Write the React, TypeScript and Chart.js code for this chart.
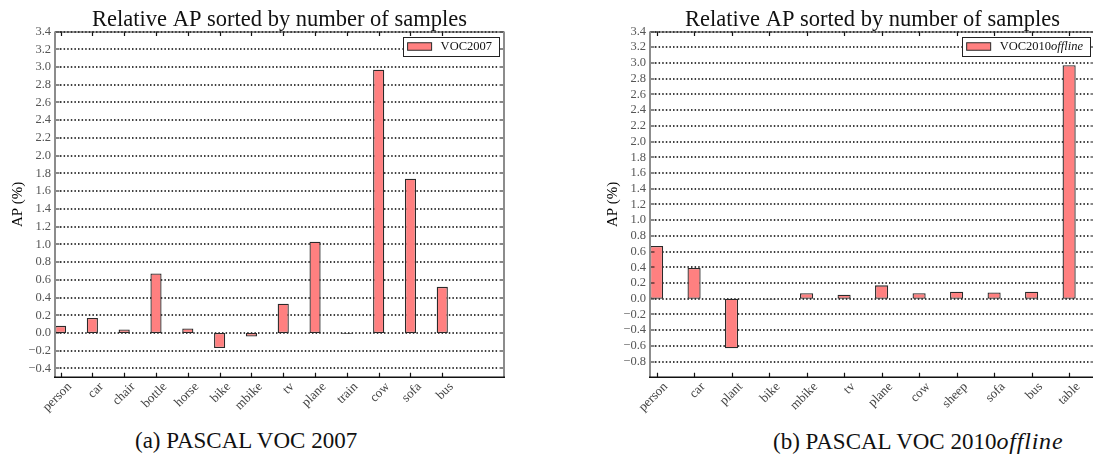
import React, { useEffect, useRef } from "react";
import { Chart, registerables } from "chart.js";

Chart.register(...registerables);

// ---------- data ----------
const categories07 = ["person", "car", "chair", "bottle", "horse", "bike", "mbike", "tv", "plane", "train", "cow", "sofa", "bus"];
const values07 = [0.08, 0.17, 0.04, 0.67, 0.05, -0.17, -0.04, 0.33, 1.03, -0.01, 2.97, 1.74, 0.52];
const yTicks07 = [-0.4, -0.2, 0.0, 0.2, 0.4, 0.6, 0.8, 1.0, 1.2, 1.4, 1.6, 1.8, 2.0, 2.2, 2.4, 2.6, 2.8, 3.0, 3.2, 3.4];
const legend07: [string, boolean][] = [["VOC2007", false]];

const categories10 = ["person", "car", "plant", "bike", "mbike", "tv", "plane", "cow", "sheep", "sofa", "bus", "table"];
const values10 = [0.67, 0.39, -0.63, -0.01, 0.07, 0.05, 0.17, 0.07, 0.09, 0.08, 0.09, 2.97];
const yTicks10 = [-0.8, -0.6, -0.4, -0.2, 0.0, 0.2, 0.4, 0.6, 0.8, 1.0, 1.2, 1.4, 1.6, 1.8, 2.0, 2.2, 2.4, 2.6, 2.8, 3.0, 3.2, 3.4];
const legend10: [string, boolean][] = [["VOC2010", false], ["offline", true]];

const chartTitle = "Relative AP sorted by number of samples";
const yTitle = "AP (%)";

const SERIF = "'Liberation Serif', 'DejaVu Serif', serif";
const BAR_FILL = "#ff8080";
const BAR_EDGE = "#2a2a2a";

const decorPlugin = {
  id: "decor",
  beforeDatasetsDraw(chart: any, _args: any, opts: any) {
    const { ctx, chartArea: a, scales } = chart;
    const y = scales.y;
    ctx.save();
    ctx.strokeStyle = "#000";
    ctx.lineWidth = 1.5;
    ctx.setLineDash([1.5, 2.1]);
    for (const t of opts.yTicks) {
      const py = Math.round(y.getPixelForValue(t));
      ctx.beginPath();
      ctx.moveTo(a.left + 5, py);
      ctx.lineTo(a.right - 5, py);
      ctx.stroke();
    }
    ctx.restore();
  },
  afterDatasetsDraw(chart: any, _args: any, opts: any) {
    const { ctx, chartArea: a, scales } = chart;
    const x = scales.x;
    const y = scales.y;
    ctx.save();
    ctx.setLineDash([]);
    ctx.strokeStyle = "#111";
    ctx.lineWidth = 1.2;
    for (const t of opts.yTicks) {
      const py = Math.round(y.getPixelForValue(t));
      ctx.beginPath();
      ctx.moveTo(a.left, py);
      ctx.lineTo(a.left + 4.5, py);
      ctx.moveTo(a.right, py);
      ctx.lineTo(a.right - 4.5, py);
      ctx.stroke();
    }
    for (let i = 0; i < opts.count; i++) {
      const px = Math.round(x.getPixelForValue(i)) + 0.5;
      ctx.beginPath();
      ctx.moveTo(px, a.bottom);
      ctx.lineTo(px, a.bottom - 4.5);
      ctx.moveTo(px, a.top);
      ctx.lineTo(px, a.top + 4.5);
      ctx.stroke();
    }
    ctx.strokeStyle = "#333";
    ctx.lineWidth = 1;
    ctx.beginPath();
    ctx.moveTo(a.left, a.top + 0.5);
    ctx.lineTo(a.right, a.top + 0.5);
    ctx.stroke();
    ctx.strokeStyle = "#8c8c8c";
    ctx.lineWidth = 2;
    ctx.beginPath();
    ctx.moveTo(a.left, a.top);
    ctx.lineTo(a.left, a.bottom);
    ctx.moveTo(a.right, a.top);
    ctx.lineTo(a.right, a.bottom);
    ctx.stroke();
    ctx.strokeStyle = "#111";
    ctx.lineWidth = 1.5;
    ctx.beginPath();
    ctx.moveTo(a.left - 1, a.bottom);
    ctx.lineTo(a.right + 1, a.bottom);
    ctx.stroke();
    ctx.restore();
  },
  afterDraw(chart: any, _args: any, opts: any) {
    const { ctx, chartArea: a } = chart;
    const ds = chart.data.datasets[0];
    const parts: [string, boolean][] = opts.legend;
    const size = 12.5;
    ctx.save();
    let textW = 0;
    for (const [t, it] of parts) {
      ctx.font = `${it ? "italic " : ""}${size}px ${SERIF}`;
      textW += ctx.measureText(t).width;
    }
    const padL = 5, swW = 24, swH = 7.5, gap = 9, padR = 7, boxH = 19;
    const boxW = padL + swW + gap + textW + padR;
    const right = a.right - 5;
    const top = a.top + 5.5;
    const left = right - boxW;
    ctx.fillStyle = "#fff";
    ctx.fillRect(left, top, boxW, boxH);
    ctx.strokeStyle = "#222";
    ctx.lineWidth = 1;
    ctx.strokeRect(Math.round(left) + 0.5, Math.round(top) + 0.5, Math.round(boxW), boxH);
    const sx = left + padL;
    const sy = top + (boxH - swH) / 2;
    ctx.fillStyle = ds.backgroundColor;
    ctx.fillRect(sx, sy, swW, swH);
    ctx.strokeStyle = BAR_EDGE;
    ctx.strokeRect(sx, sy, swW, swH);
    let tx = sx + swW + gap;
    ctx.fillStyle = "#111";
    ctx.textBaseline = "middle";
    ctx.textAlign = "left";
    for (const [t, it] of parts) {
      ctx.font = `${it ? "italic " : ""}${size}px ${SERIF}`;
      ctx.fillText(t, tx, top + boxH / 2 + 0.5);
      tx += ctx.measureText(t).width;
    }
    ctx.restore();
  },
};

type PanelProps = {
  categories: string[];
  values: number[];
  yTicks: number[];
  yMin: number;
  yMax: number;
  xMin: number;
  xMax: number;
  label: string;
  legend: [string, boolean][];
  left: number;
  padRight: number;
};

const CW = 540;
const CH = 420;

function Panel(p: PanelProps) {
  const ref = useRef<HTMLCanvasElement | null>(null);
  useEffect(() => {
    if (!ref.current) return;
    const chart = new Chart(ref.current, {
      type: "bar",
      data: {
        datasets: [
          {
            label: p.label,
            data: p.values.map((v, i) => ({ x: i, y: v })),
            backgroundColor: BAR_FILL,
            borderColor: BAR_EDGE,
            borderWidth: 1.3,
            borderSkipped: false,
            categoryPercentage: 1,
            barPercentage: 0.35,
          },
        ],
      },
      options: {
        responsive: false,
        animation: false,
        layout: { padding: { top: 0, left: 0, right: p.padRight, bottom: 0 } },
        scales: {
          x: {
            type: "linear",
            offset: false,
            min: p.xMin,
            max: p.xMax,
            grid: { display: false, drawTicks: false, offset: false },
            border: { display: false },
            afterBuildTicks: (axis: any) => {
              axis.ticks = p.categories.map((_, i) => ({ value: i }));
            },
            afterFit: (scale: any) => {
              scale.height = CH - 377.3;
            },
            ticks: {
              autoSkip: false,
              maxRotation: 45,
              minRotation: 45,
              padding: 2,
              labelOffset: 9,
              color: "#444",
              font: { family: SERIF, size: 13 },
              callback: (v: any) => p.categories[v as number] ?? "",
            },
          },
          y: {
            type: "linear",
            min: p.yMin,
            max: p.yMax,
            grid: { display: false, drawTicks: false },
            border: { display: false },
            afterBuildTicks: (axis: any) => {
              axis.ticks = p.yTicks.map((v) => ({ value: v }));
            },
            afterFit: (scale: any) => {
              scale.width = 55;
            },
            title: {
              display: true,
              text: yTitle,
              color: "#000",
              font: { family: SERIF, size: 15 },
              padding: { top: 9, bottom: 0 },
            },
            ticks: {
              autoSkip: false,
              padding: 4,
              color: "#555",
              font: { family: SERIF, size: 12.5 },
              callback: (v: any) => ((v as number) < 0 ? "\u2212" : "") + Math.abs(v as number).toFixed(1),
            },
          },
        },
        plugins: {
          legend: { display: false },
          tooltip: { enabled: false },
          title: {
            display: true,
            fullSize: false,
            text: chartTitle,
            color: "#111",
            font: { family: SERIF, size: 22.5, weight: "normal", lineHeight: 1 },
            padding: { top: 9, bottom: 0 },
          },
          decor: { yTicks: p.yTicks, count: p.categories.length, legend: p.legend },
        } as any,
      },
      plugins: [decorPlugin as any],
    });
    return () => chart.destroy();
  }, []);
  return (
    <div style={{ position: "absolute", left: p.left, top: 0, width: CW, height: CH }}>
      <canvas ref={ref} width={CW} height={CH} style={{ width: CW, height: CH, display: "block" }} />
    </div>
  );
}

const captionStyle: React.CSSProperties = {
  position: "absolute",
  top: 428,
  fontFamily: SERIF,
  fontSize: 23,
  lineHeight: "26px",
  color: "#111",
  whiteSpace: "nowrap",
};

export default function App() {
  return (
    <div
      style={{
        position: "fixed",
        left: 0,
        top: 0,
        width: 1093,
        height: 468,
        overflow: "hidden",
        background: "#fff",
      }}
    >
      <Panel
        categories={categories07}
        values={values07}
        yTicks={yTicks07}
        yMin={-0.5}
        yMax={3.4}
        xMin={-0.175}
        xMax={13.94}
        label="VOC2007"
        legend={legend07}
        left={0}
        padRight={CW - 504}
      />
      <Panel
        categories={categories10}
        values={values10}
        yTicks={yTicks10}
        yMin={-1.0}
        yMax={3.4}
        xMin={-0.175}
        xMax={11.69}
        label="VOC2010offline"
        legend={legend10}
        left={595}
        padRight={CW - 500}
      />
      <div style={{ ...captionStyle, left: 135 }}>(a) PASCAL VOC 2007</div>
      <div style={{ ...captionStyle, left: 773 }}>
        (b) PASCAL VOC 2010
        <span style={{ fontStyle: "italic", fontSize: 24, letterSpacing: 0.8 }}>offline</span>
      </div>
    </div>
  );
}
